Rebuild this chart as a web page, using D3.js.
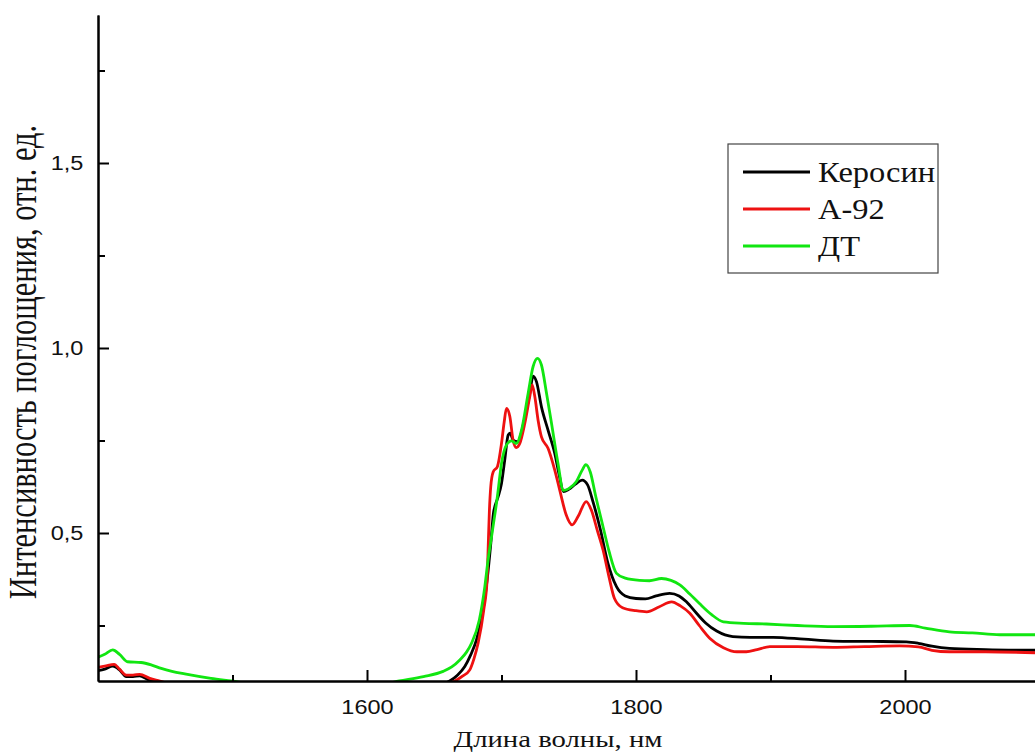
<!DOCTYPE html>
<html>
<head>
<meta charset="utf-8">
<script src="https://cdn.jsdelivr.net/npm/d3@7"></script>
<style>
  body { margin: 0; background: #fff; }
</style>
</head>
<body>
<div id="spectrum"></div>
<script>
// 1. data: [wavelength nm, absorbance]
const kerosene = [
  [1400, 0.128], [1405, 0.132], [1411, 0.140], [1416, 0.130], [1421, 0.112], [1426, 0.112],
  [1431, 0.114], [1437, 0.104], [1444, 0.097], [1460, 0.085], [1520, 0.07], [1600, 0.07],
  [1640, 0.08], [1655, 0.09], [1661.5, 0.1], [1667, 0.115], [1672.7, 0.139], [1677, 0.17],
  [1681.4, 0.211], [1686.3, 0.292], [1689.3, 0.373], [1692, 0.47], [1694, 0.553],
  [1697.5, 0.598], [1700, 0.634], [1702.4, 0.697], [1705, 0.765], [1706.5, 0.77],
  [1708.6, 0.751], [1712, 0.747], [1717, 0.805], [1721, 0.877], [1723.5, 0.924], [1726, 0.909],
  [1729.7, 0.841], [1734.6, 0.778], [1739.6, 0.715], [1743, 0.655], [1746, 0.612], [1750, 0.618],
  [1755, 0.632], [1760, 0.643], [1764, 0.63], [1768, 0.585], [1773.6, 0.508], [1779, 0.42],
  [1785.5, 0.355], [1792, 0.33], [1800, 0.323], [1807, 0.322], [1815, 0.33], [1825, 0.337],
  [1832, 0.33], [1837.5, 0.314], [1845, 0.283], [1852, 0.256], [1860, 0.235], [1872, 0.22],
  [1885, 0.218], [1902, 0.218], [1925, 0.213], [1946.5, 0.208], [1975, 0.207], [2001, 0.206],
  [2010, 0.202], [2020, 0.194], [2033, 0.188], [2060, 0.185], [2100, 0.183]
]
const a92 = [
  [1400, 0.137], [1405, 0.14], [1412, 0.145], [1416, 0.132], [1421, 0.116], [1426, 0.116],
  [1431, 0.118], [1438.5, 0.107], [1446, 0.1], [1460, 0.085], [1520, 0.07], [1600, 0.07],
  [1640, 0.078], [1658, 0.09], [1665.3, 0.1], [1671, 0.113], [1676.4, 0.13], [1679.5, 0.16],
  [1682.6, 0.202], [1686.8, 0.292], [1689.3, 0.373], [1690, 0.45], [1691, 0.56], [1692, 0.625],
  [1693.8, 0.665], [1697, 0.68], [1700, 0.742], [1702, 0.8], [1703.7, 0.837], [1706.2, 0.815],
  [1708.6, 0.751], [1711, 0.731], [1713.6, 0.742], [1717.3, 0.796], [1721, 0.868], [1722.8, 0.9],
  [1724.8, 0.868], [1727.2, 0.805], [1729.7, 0.76], [1734.6, 0.729], [1739.6, 0.67],
  [1743.3, 0.616], [1748, 0.55], [1752.5, 0.522], [1757, 0.545], [1763, 0.585], [1767, 0.56],
  [1771, 0.51], [1775.5, 0.454], [1780, 0.38], [1784, 0.323], [1790, 0.298], [1800, 0.29],
  [1808, 0.287], [1817, 0.3], [1826.5, 0.314], [1833, 0.303], [1840, 0.283], [1847, 0.25],
  [1855, 0.215], [1865, 0.19], [1875, 0.179], [1882, 0.179], [1890, 0.185], [1899.5, 0.193],
  [1920, 0.193], [1946.5, 0.191], [1970, 0.193], [1996, 0.195], [2010, 0.192], [2020, 0.183],
  [2033, 0.179], [2060, 0.179], [2100, 0.176]
]
const diesel = [
  [1400, 0.164], [1405, 0.172], [1411, 0.184], [1416, 0.172], [1422, 0.152], [1432, 0.15],
  [1440, 0.143], [1447, 0.134], [1455, 0.126], [1464.5, 0.119], [1484, 0.107], [1499, 0.1],
  [1520, 0.09], [1570, 0.085], [1610, 0.09], [1624, 0.1], [1642, 0.112], [1656.6, 0.126],
  [1663, 0.138], [1669, 0.157], [1674, 0.178], [1677.7, 0.202], [1683.5, 0.265], [1687.6, 0.355],
  [1690, 0.427], [1693, 0.5], [1697, 0.6], [1700, 0.688], [1703.7, 0.738], [1707.4, 0.749],
  [1711, 0.742], [1714.9, 0.778], [1719.8, 0.877], [1723.5, 0.95], [1726.8, 0.972],
  [1729.7, 0.954], [1733.5, 0.877], [1737.2, 0.796], [1742, 0.688], [1746, 0.615], [1750, 0.62],
  [1755.7, 0.639], [1760, 0.67], [1762.7, 0.685], [1766, 0.665], [1770, 0.6], [1775.5, 0.517],
  [1780, 0.45], [1785.5, 0.391], [1792, 0.378], [1802.7, 0.372], [1810, 0.371], [1819, 0.377],
  [1826, 0.372], [1832.6, 0.36], [1840, 0.335], [1847, 0.31], [1856, 0.28], [1865, 0.26],
  [1880, 0.256], [1897, 0.254], [1920, 0.25], [1946.5, 0.247], [1975, 0.248], [2003.6, 0.25],
  [2015, 0.243], [2033, 0.233], [2050, 0.23], [2070.5, 0.225], [2100, 0.225]
]

const seriesNames = ['Керосин', 'А-92', 'ДТ']
const seriesColors = ['#000000', '#ee1111', '#11e611']
const xMajorTicks = [1600, 1800, 2000]
const xMinorTicks = [1500, 1700, 1900, 2100]
const yMajorTicks = [0.5, 1.0, 1.5]
const yMinorTicks = [0.25, 0.75, 1.25, 1.75]
const xTitle = 'Длина волны, нм'
const yTitle = 'Интенсивность поглощения, отн. ед.'

// 2. layout
const width = 1035,
      height = 753,
      plotLeft = 98,
      plotTop = 15,
      plotBottom = 681
const stretch = 1.12 // the source picture is a bit wider than tall

const x = d3.scaleLinear().domain([1400, 2100]).range([plotLeft, plotLeft + 700 * 1.345])
const y = d3.scaleLinear().domain([0.1, 1.9]).range([plotBottom, plotTop])

const svg = d3.select('#spectrum').append('svg')
              .attr('width', width)
              .attr('height', height)

svg.append('clipPath').attr('id', 'plot')
   .append('rect')
   .attr('x', plotLeft).attr('y', plotTop)
   .attr('width', width - plotLeft).attr('height', plotBottom - plotTop)

// 3. lines
const line = d3.line()
               .x(d => x(d[0]))
               .y(d => y(d[1]))
               .curve(d3.curveMonotoneX)

svg.append('g')
   .attr('clip-path', 'url(#plot)')
   .selectAll('path')
   .data([kerosene, a92, diesel]).enter()
   .append('path')
   .attr('d', d => line(d))
   .attr('fill', 'none')
   .attr('stroke', (d, i) => seriesColors[i])
   .attr('stroke-width', 2.8)
   .attr('stroke-linejoin', 'round')

// 4. axes, ticks point inward
const tickFont = 'Liberation Sans, Arial, sans-serif'

const xAxis = svg.append('g')
   .attr('transform', `translate(0, ${plotBottom})`)
   .call(d3.axisBottom(x).tickValues(xMajorTicks).tickSize(-11).tickSizeOuter(0)
           .tickPadding(18).tickFormat(d3.format('d')))
svg.append('g')
   .attr('transform', `translate(0, ${plotBottom})`)
   .call(d3.axisBottom(x).tickValues(xMinorTicks).tickSize(-6).tickSizeOuter(0).tickFormat(''))

const yFormat = d => d3.format('.1f')(d).replace('.', ',')
const yAxis = svg.append('g')
   .attr('transform', `translate(${plotLeft}, 0)`)
   .call(d3.axisLeft(y).tickValues(yMajorTicks).tickSize(-11).tickSizeOuter(0).tickPadding(13).tickFormat(yFormat))
svg.append('g')
   .attr('transform', `translate(${plotLeft}, 0)`)
   .call(d3.axisLeft(y).tickValues(yMinorTicks).tickSize(-7).tickSizeOuter(0).tickFormat(''))

svg.selectAll('.domain, .tick line')
   .attr('stroke', '#000')
   .attr('stroke-width', 2)

svg.selectAll('.tick text')
   .attr('font-family', tickFont).attr('font-size', 21).attr('fill', '#111')
   .attr('transform', `scale(${stretch}, 1)`)

// 5. axis titles (Times)
const serif = 'Liberation Serif, Times New Roman, serif'

svg.append('text')
   .attr('transform', `translate(558, 747) scale(1.25, 1)`)
   .attr('text-anchor', 'middle')
   .attr('font-family', serif).attr('font-size', 23).attr('fill', '#111')
   .text(xTitle)

svg.append('text')
   .attr('transform', `translate(36, 362) scale(1.3, 1) rotate(-90)`)
   .attr('text-anchor', 'middle')
   .attr('font-family', serif).attr('font-size', 30.5).attr('fill', '#111')
   .text(yTitle)

// 6. legend
const legend = svg.append('g')

legend.append('rect')
      .attr('x', 728).attr('y', 144)
      .attr('width', 210).attr('height', 129)
      .attr('fill', '#fff')
      .attr('stroke', '#444').attr('stroke-width', 1.2)

const rows = legend.selectAll('.row')
                   .data(seriesNames).enter()
                   .append('g')
                   .attr('class', 'row')
                   .attr('transform', (d, i) => `translate(0, ${172 + i * 37})`)

rows.append('line')
    .attr('x1', 743).attr('x2', 810)
    .attr('stroke', (d, i) => seriesColors[i])
    .attr('stroke-width', 3)

rows.append('text')
    .attr('transform', 'translate(818, 10) scale(1.12, 1)')
    .attr('font-family', serif).attr('font-size', 29).attr('fill', '#111')
    .text(d => d)
</script>
</body>
</html>
